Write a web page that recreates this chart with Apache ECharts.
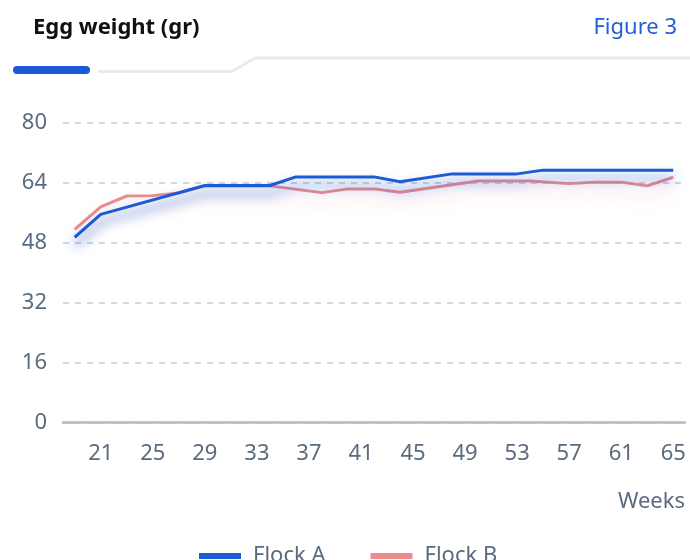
<!DOCTYPE html>
<html lang="en">
  <head>
    <meta charset="UTF-8" />
    <title>Egg weight</title>
    <script src="https://cdn.jsdelivr.net/npm/echarts@6.0.0/dist/echarts.min.js"></script>
    <style>
      html, body { margin: 0; padding: 0; background: #fff; }
      #chart { width: 690px; height: 560px; }
    </style>
  </head>
  <body>
    <div id="chart"></div>
    <script>
      // data (weeks, grams)
      const weeksA = [19, 21, 29, 34, 36, 42, 44, 48, 53, 55, 65];
      const flockA = [49.4, 55.5, 63.2, 63.2, 65.5, 65.5, 64.2, 66.3, 66.3, 67.3, 67.3];
      const weeksB = [19, 21, 23, 25, 27, 29, 34, 38, 40, 42, 44, 50, 54, 57, 59, 61, 63, 65];
      const flockB = [51.5, 57.5, 60.4, 60.5, 61.2, 63.1, 63.1, 61.3, 62.3, 62.3, 61.4, 64.4, 64.4, 63.7, 64.1, 64.1, 63.1, 65.4];
      const xTicks = [21, 25, 29, 33, 37, 41, 45, 49, 53, 57, 61, 65];

      const FONT = "'Noto Sans', sans-serif";
      const LABEL = "#5b6b7f";
      const BLUE = "#1b5bd4";
      const RED = "#ec8b8b";

      const pairs = (xs, ys) => xs.map((x, i) => [x, ys[i]]);

      const chart = echarts.init(document.getElementById("chart"));
      chart.setOption({
        animation: false,
        textStyle: { fontFamily: FONT },
        title: [
          {
            text: "Egg weight (gr)",
            left: 28,
            top: 12,
            textStyle: { fontSize: 22, fontWeight: "bold", color: "#111", fontFamily: FONT },
          },
          {
            text: "Figure 3",
            right: 8,
            top: 12,
            textStyle: { fontSize: 22, fontWeight: "normal", color: "#1f5fd6", fontFamily: FONT },
          },
        ],
        graphic: [
          {
            type: "polyline",
            shape: { points: [[98, 71.5], [232, 71.5], [255, 58], [690, 58]] },
            style: { stroke: "#e6ebf1", lineWidth: 3, fill: null },
          },
          {
            type: "rect",
            shape: { x: 13, y: 66, width: 77, height: 8, r: 4 },
            style: { fill: "#1a5ad7" },
          },
        ],
        legend: {
          left: 194,
          top: 540,
          itemWidth: 42,
          itemHeight: 6,
          itemGap: 45,
          icon: "rect",
          data: ["Flock A", "Flock B"],
          textStyle: { fontSize: 22, color: LABEL, fontFamily: FONT, padding: [0, 0, 0, 7] },
        },
        grid: { left: 63, right: 5, top: 122.5, bottom: 137.5, containLabel: false },
        xAxis: {
          type: "value",
          min: 18.1,
          max: 65.9,
          name: "Weeks",
          nameLocation: "end",
          nameGap: 0,
          nameTextStyle: {
            fontSize: 22,
            color: LABEL,
            align: "right",
            verticalAlign: "top",
            padding: [68, 0, 0, 0],
          },
          axisLine: { show: true, lineStyle: { color: "#b9b9bf", width: 2.5 } },
          axisTick: { show: false },
          splitLine: { show: false },
          axisLabel: {
            customValues: xTicks,
            fontSize: 22,
            color: LABEL,
            margin: 20,
          },
        },
        yAxis: {
          type: "value",
          min: 0,
          max: 80,
          interval: 16,
          axisLine: { show: false },
          axisTick: { show: false },
          axisLabel: { fontSize: 22, color: LABEL, margin: 16 },
          splitLine: { lineStyle: { color: "#d3d6db", width: 2, type: [6, 6] } },
        },
        series: [
          {
            name: "Flock B",
            type: "line",
            data: pairs(weeksB, flockB),
            showSymbol: false,
            symbol: "none",
            itemStyle: { color: RED },
            lineStyle: {
              color: RED,
              width: 3,
              shadowColor: "rgba(236,139,139,0.4)",
              shadowBlur: 16,
              shadowOffsetY: 10,
            },
            z: 2,
          },
          {
            name: "Flock A",
            type: "line",
            data: pairs(weeksA, flockA),
            showSymbol: false,
            symbol: "none",
            itemStyle: { color: BLUE },
            lineStyle: {
              color: BLUE,
              width: 3,
              shadowColor: "rgba(30,90,215,0.8)",
              shadowBlur: 12,
              shadowOffsetY: 8,
            },
            z: 3,
          },
        ],
      });
    </script>
  </body>
</html>
